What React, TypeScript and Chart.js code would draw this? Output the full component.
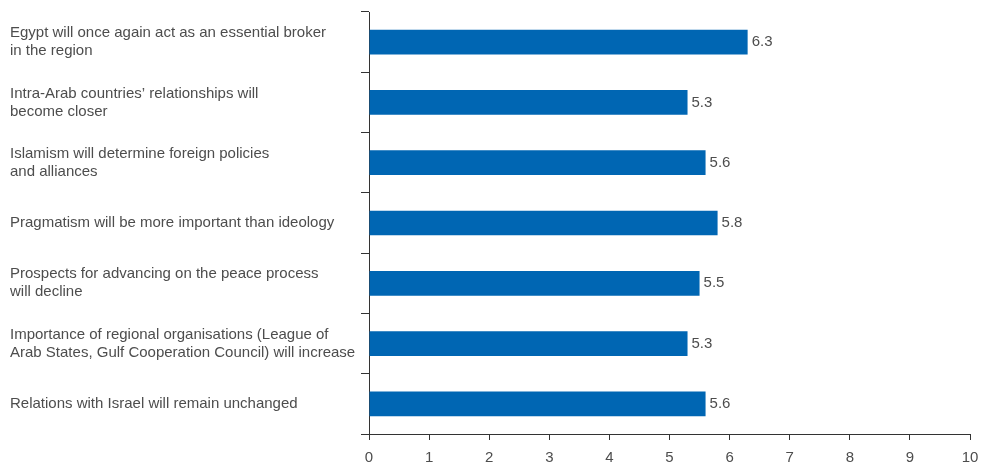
import React, { useEffect, useRef } from "react";
import { Chart, registerables } from "chart.js";

Chart.register(...registerables);

const categories: string[][] = [
  ["Egypt will once again act as an essential broker", "in the region"],
  ["Intra-Arab countries’ relationships will", "become closer"],
  ["Islamism will determine foreign policies", "and alliances"],
  ["Pragmatism will be more important than ideology"],
  ["Prospects for advancing on the peace process", "will decline"],
  ["Importance of regional organisations (League of", "Arab States, Gulf Cooperation Council) will increase"],
  ["Relations with Israel will remain unchanged"],
];
const values: number[] = [6.3, 5.3, 5.6, 5.8, 5.5, 5.3, 5.6];
const xTicks: number[] = [0, 1, 2, 3, 4, 5, 6, 7, 8, 9, 10];

const FONT = "'Liberation Sans', Arial, Helvetica, sans-serif";
const TEXT = "#4d4d4d";
const AXIS = "#333333";
const BAR = "#0066b3";

const valueLabels = {
  id: "valueLabels",
  afterDatasetsDraw(chart: any) {
    const ctx = chart.ctx;
    const meta = chart.getDatasetMeta(0);
    ctx.save();
    ctx.font = `15px ${FONT}`;
    ctx.fillStyle = TEXT;
    ctx.textAlign = "left";
    ctx.textBaseline = "middle";
    meta.data.forEach((bar: any, i: number) => {
      ctx.fillText(values[i].toFixed(1), bar.x + 4, bar.y);
    });
    ctx.restore();
  },
};

export default function App() {
  const ref = useRef<HTMLCanvasElement>(null);
  useEffect(() => {
    document.body.style.margin = "0";
    const chart = new Chart(ref.current!, {
      type: "bar",
      data: {
        labels: categories as any,
        datasets: [
          {
            data: values,
            backgroundColor: BAR,
            borderWidth: 0,
            barPercentage: 0.82,
            categoryPercentage: 0.5,
          },
        ],
      },
      options: {
        indexAxis: "y",
        animation: false,
        responsive: false,
        maintainAspectRatio: false,
        layout: { padding: { left: 10, right: 11, top: 12, bottom: 0 } },
        plugins: { legend: { display: false }, tooltip: { enabled: false } },
        scales: {
          x: {
            min: 0,
            max: 10,
            afterBuildTicks: (s: any) => {
              s.ticks = xTicks.map((v) => ({ value: v }));
            },
            afterFit: (s: any) => {
              s.height = 30;
              s.paddingLeft = 0;
              s.paddingRight = 0;
            },
            grid: {
              drawOnChartArea: false,
              drawTicks: true,
              tickLength: 6,
              color: AXIS,
            },
            border: { display: true, color: AXIS, width: 1 },
            ticks: {
              padding: 9,
              color: TEXT,
              font: { family: FONT, size: 15 },
              maxRotation: 0,
            },
          },
          y: {
            afterFit: (s: any) => {
              s.width = 359;
              s.paddingTop = 0;
              s.paddingBottom = 0;
            },
            grid: {
              offset: true,
              drawOnChartArea: false,
              drawTicks: true,
              tickLength: 8,
              color: AXIS,
            },
            border: { display: true, color: AXIS, width: 1 },
            ticks: {
              crossAlign: "far",
              padding: 0,
              color: TEXT,
              font: { family: FONT, size: 15, lineHeight: 1.2 },
              autoSkip: false,
            },
          },
        },
      },
      plugins: [valueLabels],
    });
    return () => chart.destroy();
  }, []);
  return (
    <div style={{ width: 981, height: 464, background: "#fff" }}>
      <canvas ref={ref} width={981} height={464} />
    </div>
  );
}
